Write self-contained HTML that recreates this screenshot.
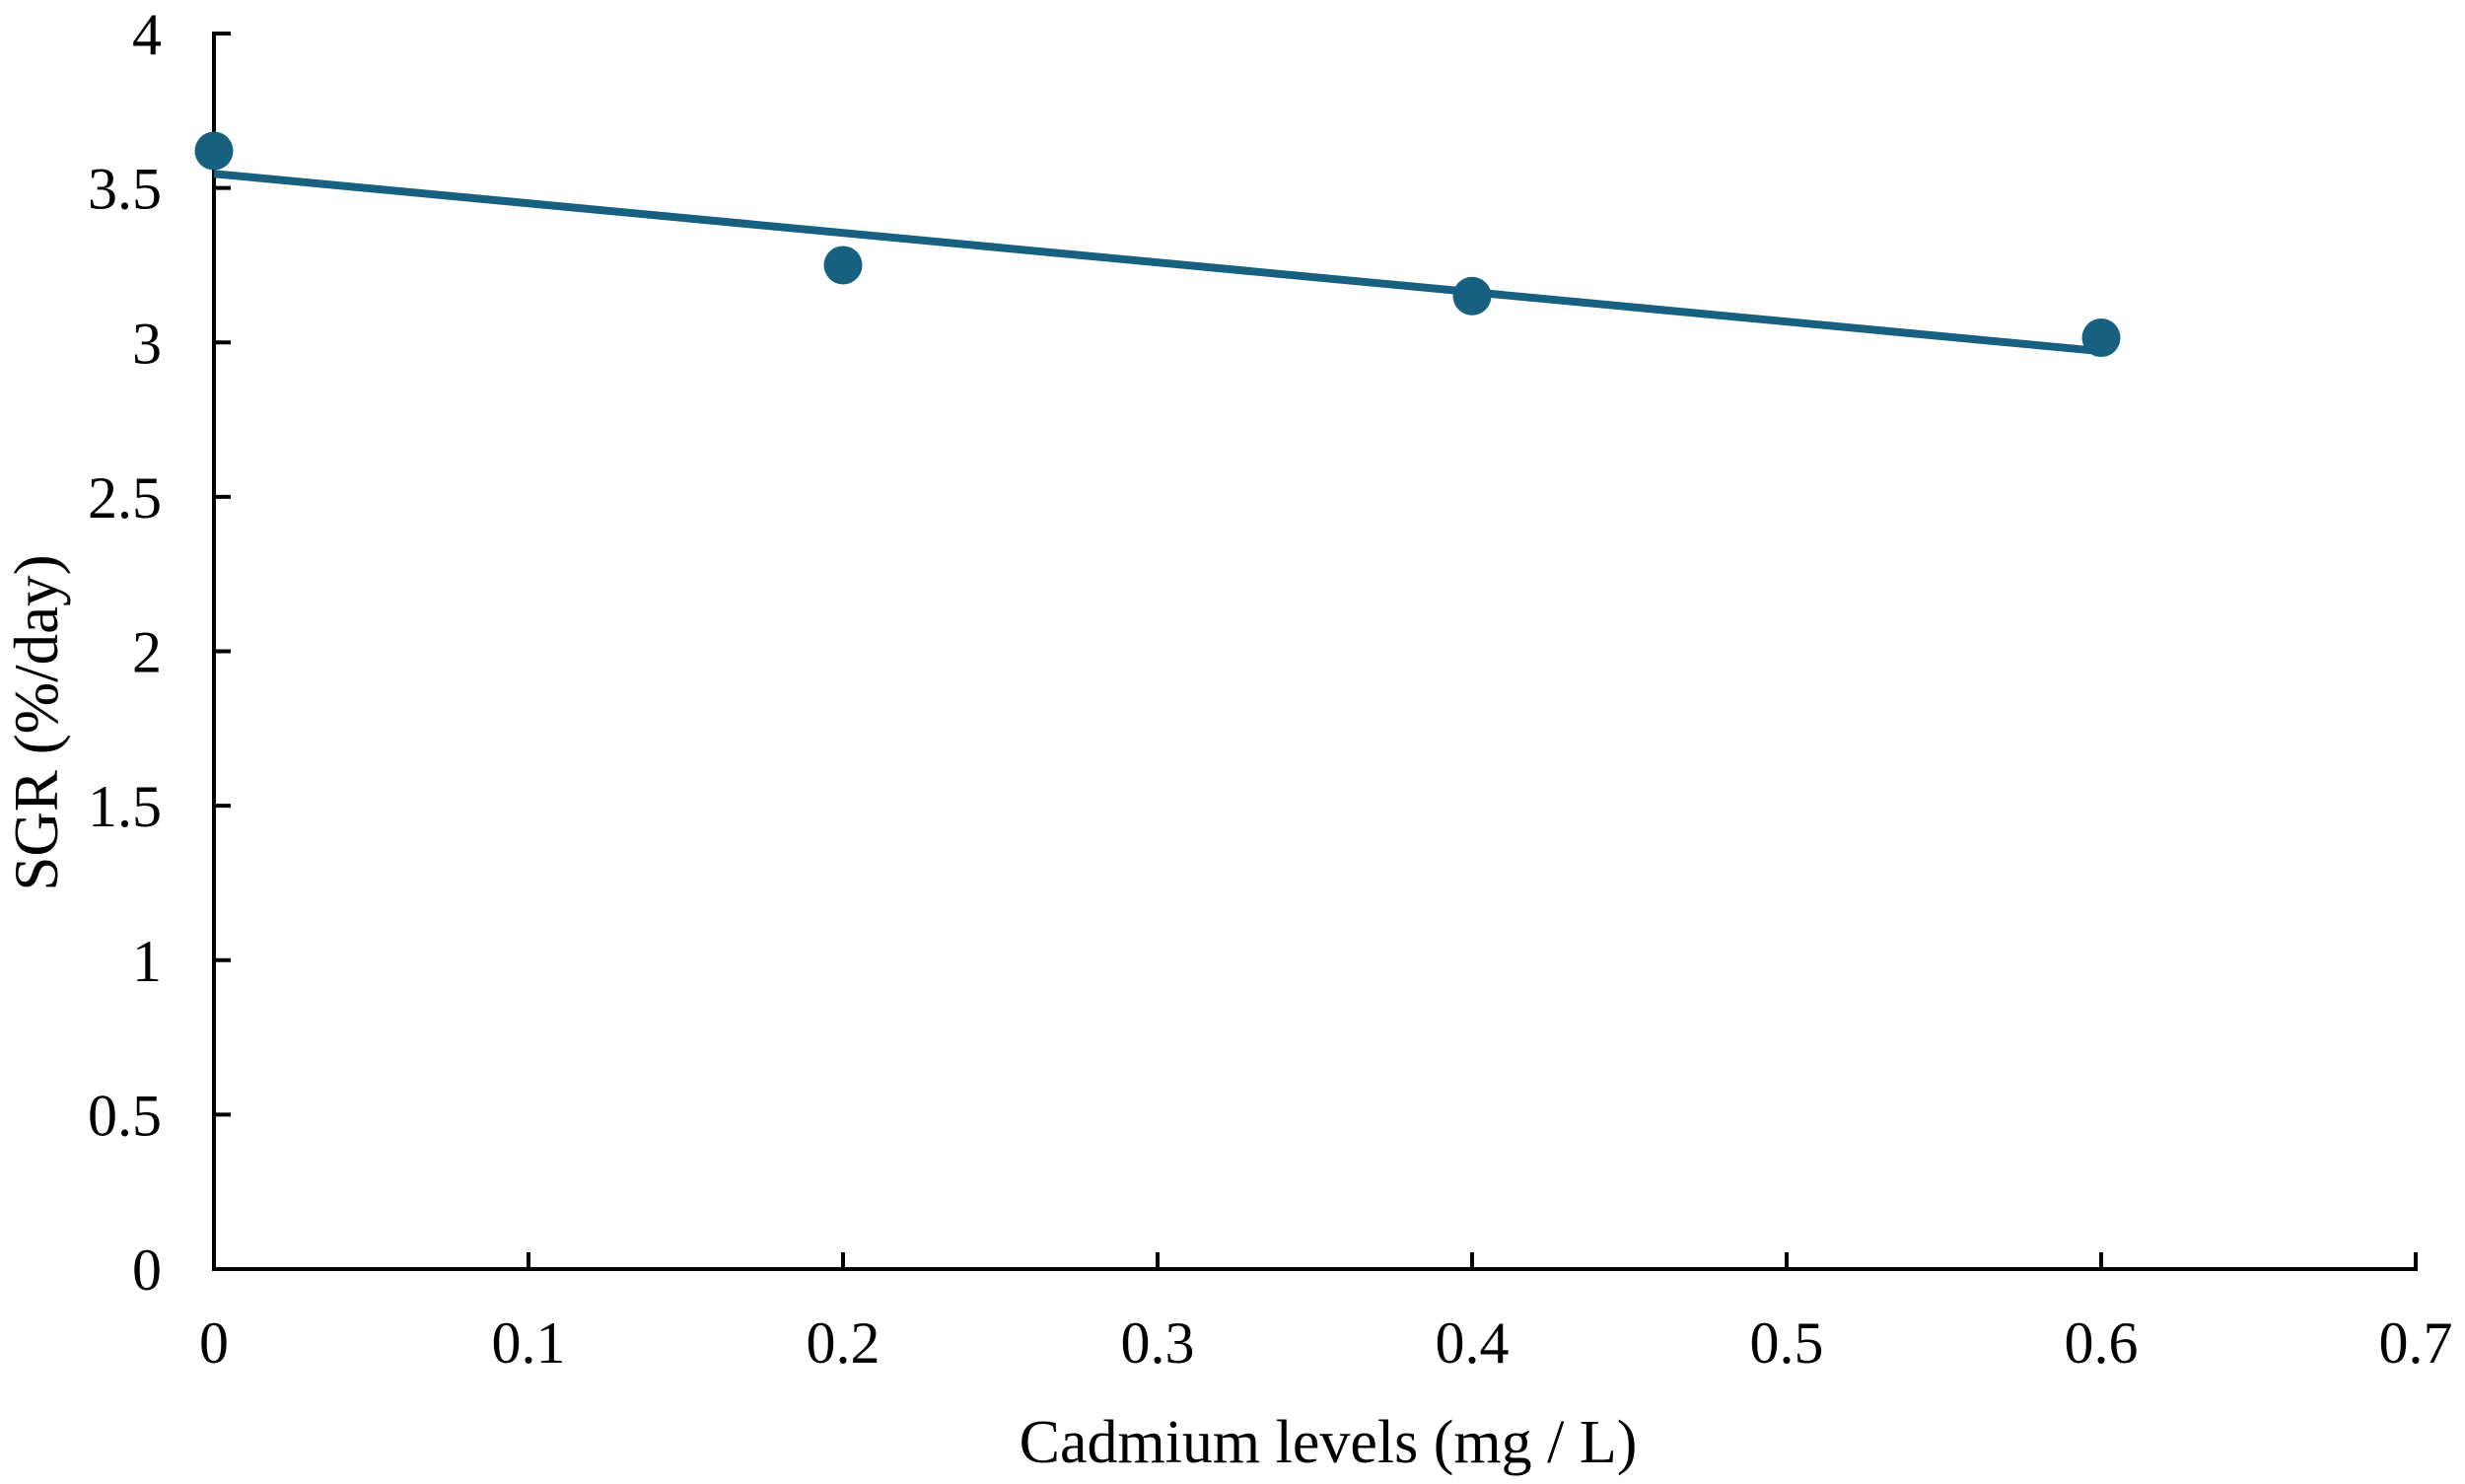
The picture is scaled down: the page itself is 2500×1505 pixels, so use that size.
<!DOCTYPE html>
<html><head><meta charset="utf-8"><style>
html,body{margin:0;padding:0;background:#fff;}
svg{display:block;}
text{font-family:"Liberation Serif",serif;fill:#000;}
</style></head><body>
<svg id="chart" width="2500" height="1505" viewBox="0 0 2500 1505" xmlns="http://www.w3.org/2000/svg">
<g id="axes"></g>
<g id="marks"></g>
<text x="1347" y="1483" font-size="62" text-anchor="middle">Cadmium levels (mg / L)</text>
<text transform="translate(58,733) rotate(-90)" font-size="63" text-anchor="middle">SGR (%/day)</text>
</svg>
<script>
const xValues = [0, 0.2, 0.4, 0.6];
const yValues = [3.62, 3.25, 3.15, 3.015];
const xTicks = [0, 0.1, 0.2, 0.3, 0.4, 0.5, 0.6, 0.7];
const yTicks = [0, 0.5, 1, 1.5, 2, 2.5, 3, 3.5, 4];
const trendIntercept = 3.546;
const trendSlope = -0.9575;

const NS = "http://www.w3.org/2000/svg";
const X0 = 217, X1 = 2450, Y0 = 1287, Y1 = 34;
const xs = v => X0 + (v - 0) / (0.7 - 0) * (X1 - X0);
const ys = v => Y0 - (v - 0) / (4 - 0) * (Y0 - Y1);
const axes = document.getElementById('axes');
const marks = document.getElementById('marks');
function mk(tag, attrs, parent) {
  const e = document.createElementNS(NS, tag);
  for (const k in attrs) e.setAttribute(k, attrs[k]);
  parent.appendChild(e);
  return e;
}
let e;
e = mk('line', {x1: X0, y1: Y1 - 2, x2: X0, y2: Y0 + 2, stroke: '#000', 'stroke-width': 4}, axes);


e = mk('line', {x1: X0 - 2, y1: Y0, x2: X1 + 2, y2: Y0, stroke: '#000', 'stroke-width': 4}, axes);


yTicks.forEach(t => {
  const y = ys(t);
  e = mk('line', {x1: X0, y1: y, x2: X0 + 17, y2: y, stroke: '#000', 'stroke-width': 4}, axes);
  
  
  e = mk('text', {x: 164, y: y + 21, 'font-size': 60, 'text-anchor': 'end'}, axes);
  e.textContent = String(t);
  
  
});
xTicks.forEach(t => {
  const x = xs(t);
  e = mk('line', {x1: x, y1: Y0, x2: x, y2: Y0 - 17, stroke: '#000', 'stroke-width': 4}, axes);
  
  
  e = mk('text', {x: x, y: 1382, 'font-size': 60, 'text-anchor': 'middle'}, axes);
  e.textContent = String(t);
  
  
});
const xmin = xValues[0], xmax = xValues[xValues.length - 1];
e = mk('line', {x1: xs(xmin), y1: ys(trendIntercept + trendSlope * xmin), x2: xs(xmax), y2: ys(trendIntercept + trendSlope * xmax), stroke: '#17607f', 'stroke-width': 8}, marks);


xValues.forEach((v, i) => {
  e = mk('circle', {cx: xs(v), cy: ys(yValues[i]), r: 19.5, fill: '#17607f'}, marks);
  
  
});
</script>
</body></html>
